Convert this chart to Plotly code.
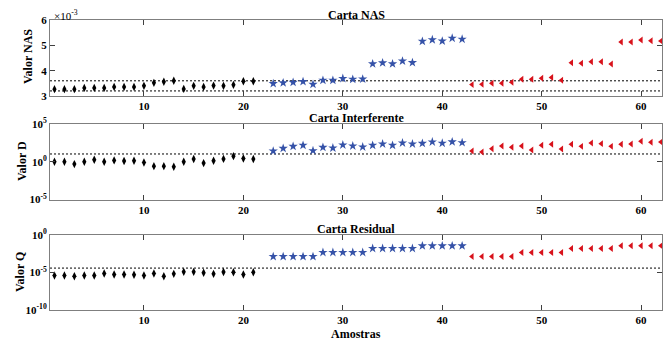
import plotly.graph_objects as go

# ---- data ----
x_black = list(range(1, 22))
x_blue = list(range(23, 43))
x_red = list(range(43, 63))

nas_black = [3.27, 3.27, 3.27, 3.32, 3.32, 3.32, 3.36, 3.36, 3.36, 3.40, 3.52, 3.56, 3.60,
             3.28, 3.40, 3.36, 3.41, 3.40, 3.44, 3.58, 3.58]
nas_blue = [3.49, 3.52, 3.54, 3.57, 3.46, 3.62, 3.62, 3.69, 3.66, 3.67,
            4.27, 4.31, 4.27, 4.38, 4.32, 5.16, 5.22, 5.17, 5.28, 5.24]
nas_red = [3.45, 3.46, 3.50, 3.50, 3.54, 3.66, 3.66, 3.70, 3.73, 3.62,
           4.31, 4.29, 4.35, 4.35, 4.26, 5.13, 5.13, 5.21, 5.18, 5.17]
nas_limits = [3.60, 3.20]

# log10 of D values
d_black_log = [0.0, 0.0, -0.31, 0.0, 0.27, 0.0, 0.18, 0.09, 0.13, -0.09, -0.58, -0.58, -0.67,
               0.0, 0.36, -0.18, 0.13, 0.38, 0.74, 0.44, 0.36]
d_blue_log = [1.42, 1.78, 2.04, 2.18, 1.47, 1.91, 1.82, 2.22, 2.09, 1.96,
              2.18, 2.36, 2.18, 2.49, 2.36, 2.44, 2.62, 2.45, 2.64, 2.53]
d_red_log = [1.42, 1.29, 1.73, 2.09, 1.91, 2.09, 1.56, 2.18, 2.31, 1.69,
             2.31, 2.04, 2.49, 2.40, 2.04, 2.31, 2.36, 2.71, 2.58, 2.62]
d_limit_log = 1.03

# log10 of Q values
q_black_log = [-5.40, -5.40, -5.49, -5.40, -5.40, -5.13, -5.27, -5.27, -5.31, -5.40, -5.13,
               -5.49, -5.18, -4.91, -4.91, -5.04, -5.18, -4.93, -4.96, -5.27, -4.96]
q_blue_log = [-2.87] * 5 + [-2.33] * 5 + [-1.80] * 5 + [-1.44] * 5
q_red_log = [-2.87] * 5 + [-2.33] * 5 + [-1.80] * 5 + [-1.44] * 5
q_limit_log = -4.41

x_range = [0.55, 62.1]
x_ticks = [10, 20, 30, 40, 50, 60]

# ---- figure ----
FONT = "Liberation Serif"
OFF = 8            # page body margin offset
W, H = 656, 336    # figure size
ML, MR = 42, 2
W_PLOT = W - ML - MR


def py(page_px):
    """page pixel (from top) -> paper fraction"""
    return 1 - (page_px - OFF) / H


def dom(top_px, bot_px):
    return [py(bot_px), py(top_px)]


black = dict(symbol="diamond-tall", size=6, color="black")
blue = dict(symbol="star", size=7, color="#3552a8", line=dict(width=0))
red = dict(symbol="triangle-left", size=6, color="#d8121b", line=dict(width=0))

fig = go.Figure()


def add_panel(k, xb, yb, xbl, ybl, xr, yr, limits):
    xa = "x" if k == 1 else f"x{k}"
    ya = "y" if k == 1 else f"y{k}"
    for lim in limits:
        fig.add_trace(go.Scatter(x=x_range, y=[lim, lim], mode="lines", xaxis=xa, yaxis=ya,
                                 line=dict(color="black", width=1, dash="2px,2px")))
    fig.add_trace(go.Scatter(x=xb, y=yb, mode="markers", marker=black, xaxis=xa, yaxis=ya))
    fig.add_trace(go.Scatter(x=xbl, y=ybl, mode="markers", marker=blue, xaxis=xa, yaxis=ya))
    fig.add_trace(go.Scatter(x=xr, y=yr, mode="markers", marker=red, xaxis=xa, yaxis=ya))


add_panel(1, x_black, [v * 1e-3 for v in nas_black], x_blue, [v * 1e-3 for v in nas_blue],
          x_red, [v * 1e-3 for v in nas_red], [v * 1e-3 for v in nas_limits])
add_panel(2, x_black, [10 ** v for v in d_black_log], x_blue, [10 ** v for v in d_blue_log],
          x_red, [10 ** v for v in d_red_log], [10 ** d_limit_log])
add_panel(3, x_black, [10 ** v for v in q_black_log], x_blue, [10 ** v for v in q_blue_log],
          x_red, [10 ** v for v in q_red_log], [10 ** q_limit_log])

tickfont = dict(family=FONT, size=11, color="black", weight="bold")
axis_common = dict(showline=True, linecolor="#7f7f7f", linewidth=1, mirror="ticks",
                   ticks="inside", ticklen=5, tickcolor="#404040", showgrid=False,
                   zeroline=False, tickfont=tickfont, automargin=False)

layout = dict(
    xaxis=dict(range=x_range, tickvals=x_ticks, anchor="y", domain=[0, 1], **axis_common),
    xaxis2=dict(range=x_range, tickvals=x_ticks, anchor="y2", domain=[0, 1], **axis_common),
    xaxis3=dict(range=x_range, tickvals=x_ticks, anchor="y3", domain=[0, 1], **axis_common),
    yaxis=dict(range=[3e-3, 6e-3], tickvals=[3e-3, 4e-3, 5e-3, 6e-3],
               ticktext=["3", "4", "5", "6"], domain=dom(20, 96), anchor="x", **axis_common),
    yaxis2=dict(type="log", range=[-5, 5], tickvals=[1e-5, 1, 1e5],
                ticktext=["10<sup>-5</sup>", "10<sup>0</sup>", "10<sup>5</sup>"],
                domain=dom(124, 199.5), anchor="x2", **axis_common),
    yaxis3=dict(type="log", range=[-10, 0], tickvals=[1e-10, 1e-5, 1],
                ticktext=["10<sup>-10</sup>", "10<sup>-5</sup>", "10<sup>0</sup>"],
                domain=dom(235, 310), anchor="x3", **axis_common),
)
fig.update_layout(**layout)

ann_font = dict(family=FONT, size=12, color="black", weight="bold")
annotations = [
    dict(text="Carta NAS", x=0.5, y=py(15)),
    dict(text="Carta Interferente", x=0.5, y=py(118)),
    dict(text="Carta Residual", x=0.5, y=py(229)),
    dict(text="Amostras", x=0.5, y=py(333.5)),
]
for a in annotations:
    fig.add_annotation(xref="paper", yref="paper", showarrow=False, font=ann_font,
                       xanchor="center", yanchor="middle", **a)

ylabels = [("Valor NAS", 57, -22), ("Valor D", 161, -28), ("Valor Q", 272, -30)]
for txt, ypx, dx in ylabels:
    fig.add_annotation(text=txt, xref="paper", yref="paper", x=dx / W_PLOT, y=py(ypx),
                       showarrow=False, textangle=-90, font=ann_font,
                       xanchor="center", yanchor="middle")

fig.add_annotation(text="×10<sup>-3</sup>", xref="paper", yref="paper", x=2 / W_PLOT,
                   y=py(15), showarrow=False, xanchor="left", yanchor="middle",
                   font=dict(family=FONT, size=11, color="black"))

fig.update_layout(width=W, height=H, margin=dict(l=ML, r=MR, t=0, b=0),
                  paper_bgcolor="white", plot_bgcolor="white", showlegend=False,
                  font=dict(family=FONT, color="black"))

fig.write_html("out.html")
